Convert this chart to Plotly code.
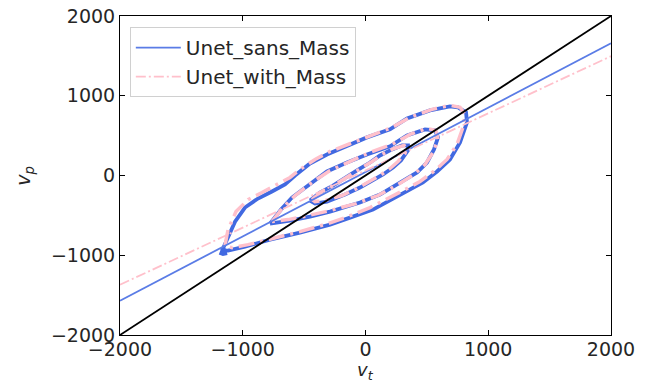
import plotly.graph_objects as go

# ---- data ----
fit_x = [-2000, 2000]
ident_y = [-2000, 2000]
sans_fit_y = [-1571, 1659]
with_fit_y = [-1370, 1496]

sans_outer_x = [-1169, -1120, -1063, -982, -876, -762, -656, -574, -452, -314, -151, 12, 200, 338, 525, 688, 754, 819, 827, 770, 688, 583, 468, 363, 257, 61, -126, -289, -534, -778, -982, -1120, -1169]
sans_outer_y = [-943, -767, -578, -402, -289, -201, -113, 0, 151, 264, 365, 478, 578, 716, 817, 867, 855, 792, 666, 415, 201, 50, -88, -176, -264, -427, -528, -616, -716, -804, -892, -943, -943]

sans_blob_x = [-1185, -1160, -1130]
sans_blob_y = [-950, -965, -955]

sans_mid_x = [-778, -688, -599, -452, -314, -151, 12, 200, 338, 485, 566, 591, 558, 501, 420, 281, 118, -45, -289, -452, -615, -778]
sans_mid_y = [-603, -427, -277, -113, 50, 163, 264, 365, 503, 578, 566, 478, 327, 163, 38, -88, -239, -339, -453, -515, -566, -603]

sans_in_x = [-452, -371, -265, -167, -69, 37, 118, 216, 297, 346, 346, 289, 224, 143, 61, -45, -167, -314, -411, -452]
sans_in_y = [-314, -214, -126, -38, 63, 163, 251, 327, 377, 377, 314, 189, 101, 13, -63, -151, -239, -327, -352, -314]

with_outer_x = [-1145, -1120, -1055, -957, -843, -737, -615, -534, -411, -289, -126, 37, 216, 363, 542, 688, 770, 811, 794, 745, 664, 566, 444, 322, 200, 37, -143, -306, -534, -762, -957, -1088, -1145]
with_outer_y = [-880, -679, -453, -302, -214, -126, -25, 75, 201, 302, 402, 503, 603, 729, 830, 880, 855, 767, 603, 390, 201, 63, -75, -176, -277, -402, -515, -603, -704, -792, -867, -905, -880]

with_mid_x = [-762, -672, -574, -436, -289, -126, 37, 216, 363, 501, 574, 591, 550, 485, 395, 265, 102, -77, -289, -468, -631, -762]
with_mid_y = [-578, -402, -251, -88, 63, 176, 289, 390, 515, 591, 566, 453, 289, 138, 13, -113, -251, -352, -440, -503, -553, -578]

with_in_x = [-436, -354, -248, -151, -53, 53, 134, 232, 314, 338, 322, 265, 200, 118, 37, -69, -191, -330, -411, -436]
with_in_y = [-302, -201, -113, -25, 75, 176, 264, 339, 377, 352, 277, 176, 88, 0, -75, -163, -251, -314, -327, -302]

x_ticks = [-2000, -1000, 0, 1000, 2000]
y_ticks = [-2000, -1000, 0, 1000, 2000]

BLUE = "#4169E1"
PINK = "#FFC0CB"
FONT = "DejaVu Sans"
TXT = "#262626"

fig = go.Figure()

# blue contours (solid, thick)
for cx, cy in [(sans_outer_x, sans_outer_y), (sans_mid_x, sans_mid_y), (sans_in_x, sans_in_y)]:
    fig.add_trace(go.Scatter(x=cx, y=cy, mode="lines", showlegend=False, hoverinfo="skip",
                             line=dict(color=BLUE, width=3.8)))
fig.add_trace(go.Scatter(x=sans_blob_x, y=sans_blob_y, mode="lines", showlegend=False, hoverinfo="skip",
                         line=dict(color=BLUE, width=7)))
# pink contours (dash-dot, thick)
for cx, cy in [(with_outer_x, with_outer_y), (with_mid_x, with_mid_y), (with_in_x, with_in_y)]:
    fig.add_trace(go.Scatter(x=cx, y=cy, mode="lines", showlegend=False, hoverinfo="skip",
                             line=dict(color=PINK, width=3.5, dash="16px,6px,3px,6px")))

# fit lines
fig.add_trace(go.Scatter(x=fit_x, y=sans_fit_y, mode="lines", name="Unet_sans_Mass",
                         legendgroup="a", line=dict(color="#5a7ce6", width=1.8)))
fig.add_trace(go.Scatter(x=fit_x, y=with_fit_y, mode="lines", name="Unet_with_Mass",
                         legendgroup="b", line=dict(color=PINK, width=1.8, dash="10px,3px,2px,3px")))
# identity line
fig.add_trace(go.Scatter(x=fit_x, y=ident_y, mode="lines", showlegend=False,
                         line=dict(color="black", width=1.8)))

axis_common = dict(showgrid=False, zeroline=False, showline=True, linecolor="black", linewidth=1,
                   mirror="ticks", ticks="inside", ticklen=5, tickwidth=1, tickcolor="black",
                   automargin=False, tickfont=dict(family=FONT, size=19, color=TXT))

fig.update_xaxes(range=[-2000, 2000], tickvals=x_ticks, ticklabelstandoff=-3,
                 ticktext=[f"{v}".replace("-", "\u2212") for v in x_ticks], **axis_common)
fig.update_yaxes(range=[-2000, 2000], tickvals=y_ticks,
                 ticktext=[f"{v}".replace("-", "\u2212") for v in y_ticks], **axis_common)

fig.update_layout(
    width=651, height=385,
    margin=dict(l=120, r=40, t=16, b=50, autoexpand=False),
    plot_bgcolor="white", paper_bgcolor="white",
    font=dict(family=FONT, size=19, color=TXT),
    legend=dict(x=0.02, y=0.965, xanchor="left", yanchor="top",
                bgcolor="rgba(255,255,255,0.8)", bordercolor="#d0d0d0", borderwidth=1,
                font=dict(family=FONT, size=20, color=TXT), itemwidth=45,
                traceorder="grouped", tracegroupgap=0),
    annotations=[
        dict(text="<i>v<sub>t</sub></i>", xref="paper", yref="paper", x=0.5, y=-0.157,
             xanchor="center", yanchor="bottom", showarrow=False,
             font=dict(family=FONT, size=18, color=TXT)),
        dict(text="<i>v<sub>p</sub></i>", xref="paper", yref="paper", x=-0.195, y=0.5,
             xanchor="center", yanchor="middle", showarrow=False, textangle=-90,
             font=dict(family=FONT, size=19, color=TXT)),
    ],
)

fig.write_html("out.html")
